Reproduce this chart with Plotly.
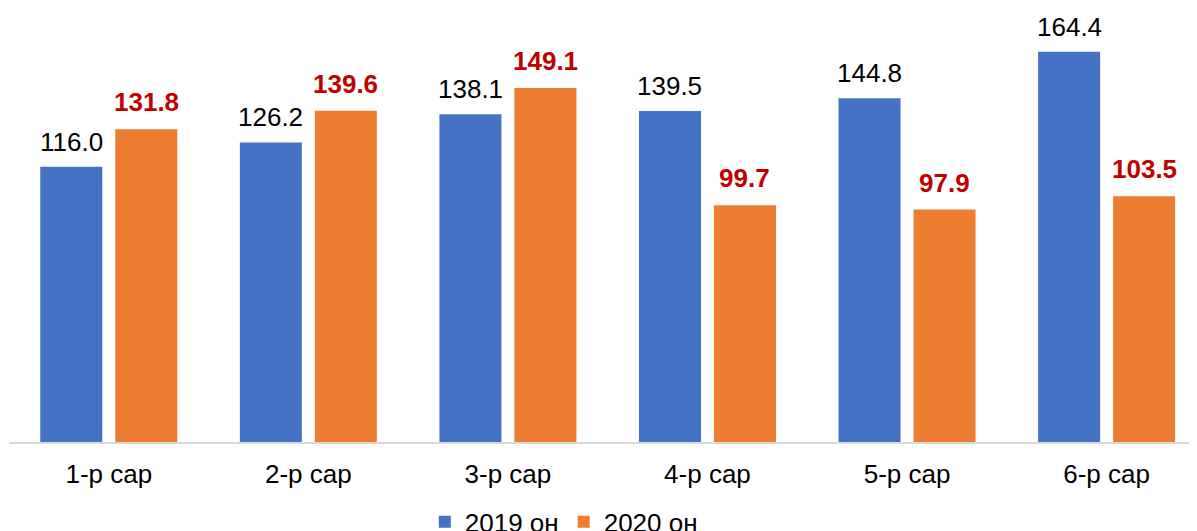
import plotly.graph_objects as go

categories = ["1-р сар", "2-р сар", "3-р сар", "4-р сар", "5-р сар", "6-р сар"]
values_2019 = [116.0, 126.2, 138.1, 139.5, 144.8, 164.4]
values_2020 = [131.8, 139.6, 149.1, 99.7, 97.9, 103.5]
series_names = ["2019 он", "2020 он"]

BLUE = "#4472C4"
ORANGE = "#ED7D31"
RED = "#C00000"
FONT = "Liberation Sans, Arial, sans-serif"

fig = go.Figure()
fig.add_trace(go.Bar(x=categories, y=values_2019, name=series_names[0],
                     marker=dict(color=BLUE, line=dict(width=0))))
fig.add_trace(go.Bar(x=categories, y=values_2020, name=series_names[1],
                     marker=dict(color=ORANGE, line=dict(width=0))))

annotations = []
for c, v in zip(categories, values_2019):
    annotations.append(dict(x=c, y=v, xref="x", yref="y", text=f"{v:.1f}",
                            showarrow=False, xanchor="center", yanchor="bottom",
                            xshift=-37.5, yshift=8,
                            font=dict(family=FONT, size=26, color="#000000")))
for c, v in zip(categories, values_2020):
    annotations.append(dict(x=c, y=v, xref="x", yref="y", text=f"<b>{v:.1f}</b>",
                            showarrow=False, xanchor="center", yanchor="bottom",
                            xshift=37.5, yshift=10,
                            font=dict(family=FONT, size=26, color=RED)))

fig.update_layout(
    width=1189, height=523,
    margin=dict(l=1, r=0, t=2, b=89, autoexpand=False),
    paper_bgcolor="white", plot_bgcolor="white",
    barmode="group", bargap=0.2485, bargroupgap=0.173,
    font=dict(family=FONT, size=26, color="#000000"),
    annotations=annotations,
    showlegend=True,
    legend=dict(orientation="h", x=0.467, xanchor="center", y=-0.185, yanchor="middle",
                font=dict(family=FONT, size=26, color="#000000"),
                bgcolor="rgba(0,0,0,0)", itemwidth=30, traceorder="normal"),
    xaxis=dict(type="category", range=[-0.5, 5.453], showgrid=False, zeroline=False,
               showline=True, linecolor="#D9D9D9", linewidth=2, ticks="",
               ticklabelstandoff=8,
               tickfont=dict(family=FONT, size=26, color="#000000")),
    yaxis=dict(range=[0, 182], visible=False, showgrid=False, zeroline=False),
)

fig.write_html("out.html")
